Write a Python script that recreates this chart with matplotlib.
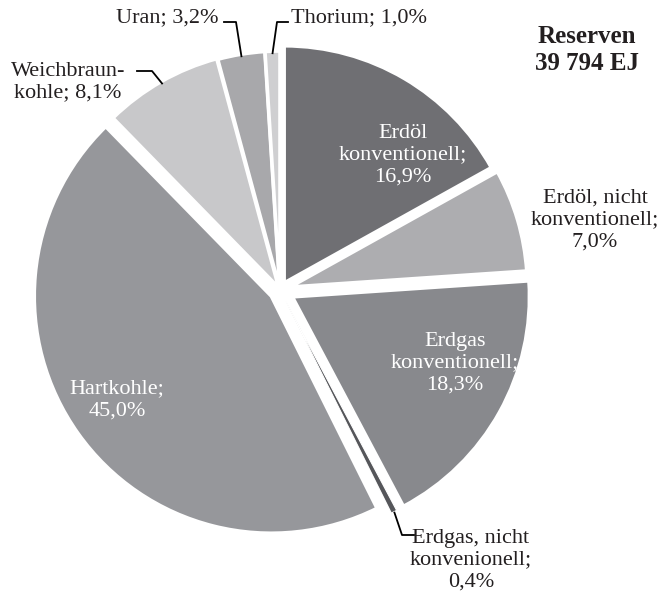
import numpy as np
import matplotlib
matplotlib.use("Agg")
from matplotlib import pyplot as plt

# shares of world energy reserves (percent)
sources = ["Erdöl konventionell", "Erdöl nicht konventionell", "Erdgas konventionell",
           "Erdgas nicht konventionell", "Hartkohle", "Weichbraunkohle", "Uran", "Thorium"]
shares = [16.9, 7.0, 18.3, 0.4, 45.0, 8.1, 3.2, 1.0]
labels = ["Erdöl\nkonventionell;\n16,9%", "Erdöl, nicht\nkonventionell;\n7,0%",
          "Erdgas\nkonventionell;\n18,3%", "Erdgas, nicht\nkonvenionell;\n0,4%",
          "Hartkohle;\n45,0%", "Weichbraun-\nkohle; 8,1%", "Uran; 3,2%", "Thorium; 1,0%"]
colors = ["#6f6f73", "#adadb0", "#88898d", "#55565a", "#96979b", "#c8c8ca", "#a8a8ab", "#cfcfd1"]
explode = [0.035, 0.045, 0.06, 0.052, 0.045, 0.012, 0.008, 0.008]

plt.rcParams["font.family"] = ["Liberation Serif", "DejaVu Serif"]

W, H = 661, 595
fig = plt.figure(figsize=(W / 100, H / 100), dpi=100)
ax = fig.add_axes([0, 0, 1, 1])

cx, cy, R = 280, H - 290, 237
# pie() offsets wedges by explode in data units, so scale by the radius
wedges, _ = ax.pie(shares, colors=colors, startangle=90, counterclock=False,
                   explode=[e * R for e in explode], radius=R, center=(cx, cy),
                   wedgeprops=dict(edgecolor="white", linewidth=2.5))
# the thin slice would vanish under a thick outline
wedges[3].set_linewidth(0.8)
ax.set_xlim(0, W)
ax.set_ylim(0, H)
ax.set_aspect("equal")
ax.axis("off")


def py(y):
    # pixel row -> data y
    return H - y


fs = 16
ink = "#231f20"
# labels inside the slices
ax.text(403, py(155), labels[0], color="white", fontsize=fs, ha="center", va="center")
ax.text(455, py(363), labels[2], color="white", fontsize=fs, ha="center", va="center")
ax.text(117, py(400), labels[4], color="white", fontsize=fs, ha="center", va="center")
# labels outside
ax.text(595, py(220), labels[1], color=ink, fontsize=fs, ha="center", va="center")
ax.text(471, py(560), labels[3], color=ink, fontsize=fs, ha="center", va="center")
ax.text(68, py(82), labels[5], color=ink, fontsize=fs, ha="center", va="center")
ax.text(219, py(18), labels[6], color=ink, fontsize=fs, ha="right", va="center")
ax.text(291, py(18), labels[7], color=ink, fontsize=fs, ha="left", va="center")

ax.text(587, py(50), "Reserven\n39 794 EJ", color=ink, fontsize=18,
        fontweight="bold", ha="center", va="center")


def rim(i, frac=0.5, extra=0.0):
    # point on the outer arc of wedge i
    w = wedges[i]
    th = np.deg2rad(w.theta1 + frac * (w.theta2 - w.theta1))
    x0, y0 = w.center
    return x0 + (w.r + extra) * np.cos(th), y0 + (w.r + extra) * np.sin(th)


# leader lines
lw = 1.3
x, y = rim(3, 0.5, 1)
ax.plot([x, 402, 414], [y, py(535), py(535)], color="black", lw=lw)
x, y = rim(5, 0.5, -2)
ax.plot([x, 152, 137], [y, py(71), py(71)], color="black", lw=lw)
x, y = rim(6, 0.5, -2)
ax.plot([x, 236, 224], [y, py(22), py(22)], color="black", lw=lw)
x, y = rim(7, 0.5, -2)
ax.plot([x, 277, 288], [y, py(22), py(22)], color="black", lw=lw)

plt.savefig("out.png", dpi=100, facecolor="white")
